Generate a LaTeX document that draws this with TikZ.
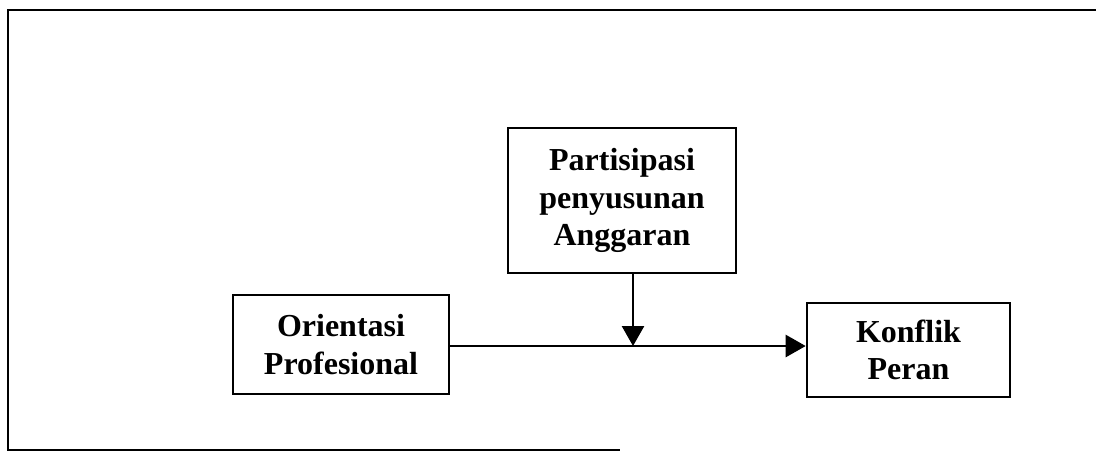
\documentclass[tikz,border=0pt]{standalone}
\usepackage{fontspec}
\setmainfont{Liberation Serif}
\usetikzlibrary{positioning,arrows.meta}

\begin{document}
\begin{tikzpicture}[
  x=0.5pt,y=-0.5pt,
  every node/.style={draw,line width=1.3pt,align=center,inner sep=0pt,
    font=\fontsize{16}{18.6}\selectfont\bfseries},
  every path/.style={line width=1.3pt},
  tip/.style={-{Triangle[length=10pt,width=11pt]}},
  ]
  \useasboundingbox (0,0) rectangle (1096,452);
  % frame
  \draw (1096,10) -- (8,10) -- (8,450) -- (620,450);
  \node[minimum width=108pt,minimum height=49.5pt](orient) at (341,344.5)
    {Orientasi\\Profesional};
  \node[minimum width=114pt,minimum height=72.5pt](partis) at (622,200.5)
    {Partisipasi\\penyusunan\\Anggaran};
  \node[minimum width=101.5pt,minimum height=47pt](konflik) at (908.5,350)
    {Konflik\\Peran};
  \coordinate(drop) at (633,346);
  \draw[tip] (orient.east |- drop) -- (konflik.west |- drop);
  \draw[tip] (drop |- partis.south) -- (drop);
\end{tikzpicture}
\end{document}
